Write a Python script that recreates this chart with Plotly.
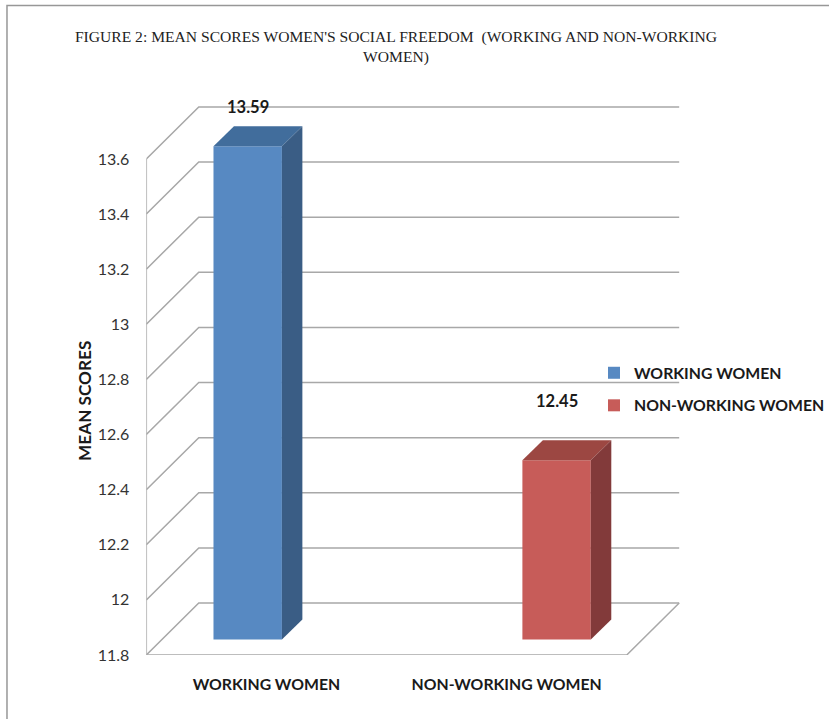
import plotly.graph_objects as go

# Chart data
categories = ["WORKING WOMEN", "NON-WORKING WOMEN"]
mean_scores = [13.59, 12.45]
tick_values = [11.8, 12.0, 12.2, 12.4, 12.6, 12.8, 13.0, 13.2, 13.4, 13.6]
tick_labels = ["11.8", "12", "12.2", "12.4", "12.6", "12.8", "13", "13.2", "13.4", "13.6"]

# Styling
front_colors = ["#5789C2", "#C75C59"]
top_colors = ["#416D9C", "#9C4742"]
side_colors = ["#3A5D85", "#823A3A"]
GRID = "#A8A8A8"
TEXT = "#1A1A1A"
SANS = "Lato, 'Open Sans', sans-serif"

# Page geometry of the plotting plane
W, H = 830, 719
LEFT, BOTTOM = 146.5, 655
PX_X = 240.5      # pixels per category
PX_Y = 275.6      # pixels per score unit
FLOOR = tick_values[0]

# Oblique projection: depth of the wall and of the bars, in axis units
wall_dx, wall_dy = 52.5 / PX_X, 52 / PX_Y
bar_dx, bar_dy = 20.5 / PX_X, 20 / PX_Y
bar_lift = 15.5 / PX_Y
bar_width = 68.5 / PX_X
bar_centers = [0.422, 1.708]
label_lift = [0.198, 0.273]
x_end = len(categories)

fig = go.Figure()

# Front faces
for i, name in enumerate(categories):
    fig.add_trace(go.Bar(
        x=[bar_centers[i]], y=[mean_scores[i] - FLOOR], base=[FLOOR + bar_lift],
        width=[bar_width], name=name, legendgroup=name,
        marker=dict(color=front_colors[i], line=dict(width=0)),
        hoverinfo="skip",
    ))

# Top and side faces of each column
for i, name in enumerate(categories):
    xl = bar_centers[i] - bar_width / 2
    xr = bar_centers[i] + bar_width / 2
    yb = FLOOR + bar_lift
    yt = mean_scores[i] + bar_lift
    faces = [
        ([xl, xr, xr + bar_dx, xl + bar_dx, xl], [yt, yt, yt + bar_dy, yt + bar_dy, yt], top_colors[i]),
        ([xr, xr + bar_dx, xr + bar_dx, xr, xr], [yb, yb + bar_dy, yt + bar_dy, yt, yb], side_colors[i]),
    ]
    for xs, ys, color in faces:
        fig.add_trace(go.Scatter(
            x=xs, y=ys, mode="lines", fill="toself", fillcolor=color,
            line=dict(width=0, color=color), showlegend=False, hoverinfo="skip",
        ))

# Wall gridlines run back from the axis and across the rear plane
shapes = []
for t in tick_values:
    path = (f"M 0 {t} L {wall_dx} {t + wall_dy} L {x_end + wall_dx} {t + wall_dy}")
    shapes.append(dict(type="path", path=path, xref="x", yref="y", layer="below",
                       line=dict(color=GRID, width=1.5)))

# Left wall edge, front floor edge and right floor edge
axis_path = (f"M 0 {tick_values[-1]} L 0 {FLOOR} L {x_end} {FLOOR} "
             f"L {x_end + wall_dx} {FLOOR + wall_dy}")
shapes.append(dict(type="path", path=axis_path, xref="x", yref="y", layer="below",
                   line=dict(color=GRID, width=1.5)))

# Page frame: top and left edges
shapes.append(dict(type="path", xref="paper", yref="paper",
                   path=f"M {7/W} 0 L {7/W} {1-5.5/H} L 1 {1-5.5/H}",
                   line=dict(color="#979797", width=1.5)))

annotations = [
    dict(text=f"{v:.2f}", x=bar_centers[i], y=v + label_lift[i], xref="x", yref="y",
         showarrow=False, font=dict(family=SANS, size=16.5, color=TEXT, weight="bold"))
    for i, v in enumerate(mean_scores)
]
annotations.append(dict(
    text="MEAN SCORES", textangle=-90, x=84 / W, y=1 - 401 / H, xref="paper", yref="paper",
    xanchor="center", yanchor="middle", showarrow=False,
    font=dict(family=SANS, size=17.2, color=TEXT, weight="bold"),
))

fig.update_layout(
    width=W, height=H, autosize=False,
    margin=dict(l=0, r=0, t=0, b=0),
    paper_bgcolor="white", plot_bgcolor="white",
    barmode="overlay",
    title=dict(
        text="FIGURE 2: MEAN SCORES WOMEN'S SOCIAL FREEDOM &nbsp;(WORKING AND NON-WORKING<br>WOMEN)",
        x=396 / W, xanchor="center", y=1 - 41.5 / H, yanchor="middle",
        font=dict(family="'Liberation Serif', serif", size=15.6, color="#222222"),
    ),
    xaxis=dict(
        domain=[LEFT / W, 1], range=[0, (W - LEFT) / PX_X], fixedrange=True, automargin=False,
        tickvals=[i + 0.5 for i in range(len(categories))], ticktext=categories,
        ticks="", ticklabelstandoff=18, showgrid=False, zeroline=False, showline=False,
        tickfont=dict(family=SANS, size=15.8, color=TEXT, weight="bold"),
    ),
    yaxis=dict(
        domain=[(H - BOTTOM) / H, 1], range=[FLOOR, FLOOR + BOTTOM / PX_Y], fixedrange=True, automargin=False,
        tickvals=tick_values, ticktext=tick_labels,
        ticks="", ticklabelstandoff=16, showgrid=False, zeroline=False, showline=False,
        tickfont=dict(family=SANS, size=16, color="#333333"),
    ),
    legend=dict(
        x=595 / W, y=1 - 356 / H, xanchor="left", yanchor="top",
        traceorder="grouped", tracegroupgap=9, bgcolor="rgba(0,0,0,0)",
        entrywidth=140, entrywidthmode="pixels",
        font=dict(family=SANS, size=15.8, color=TEXT, weight="bold"),
    ),
    shapes=shapes,
    annotations=annotations,
)

fig.write_html("out.html", config=dict(displayModeBar=False))
